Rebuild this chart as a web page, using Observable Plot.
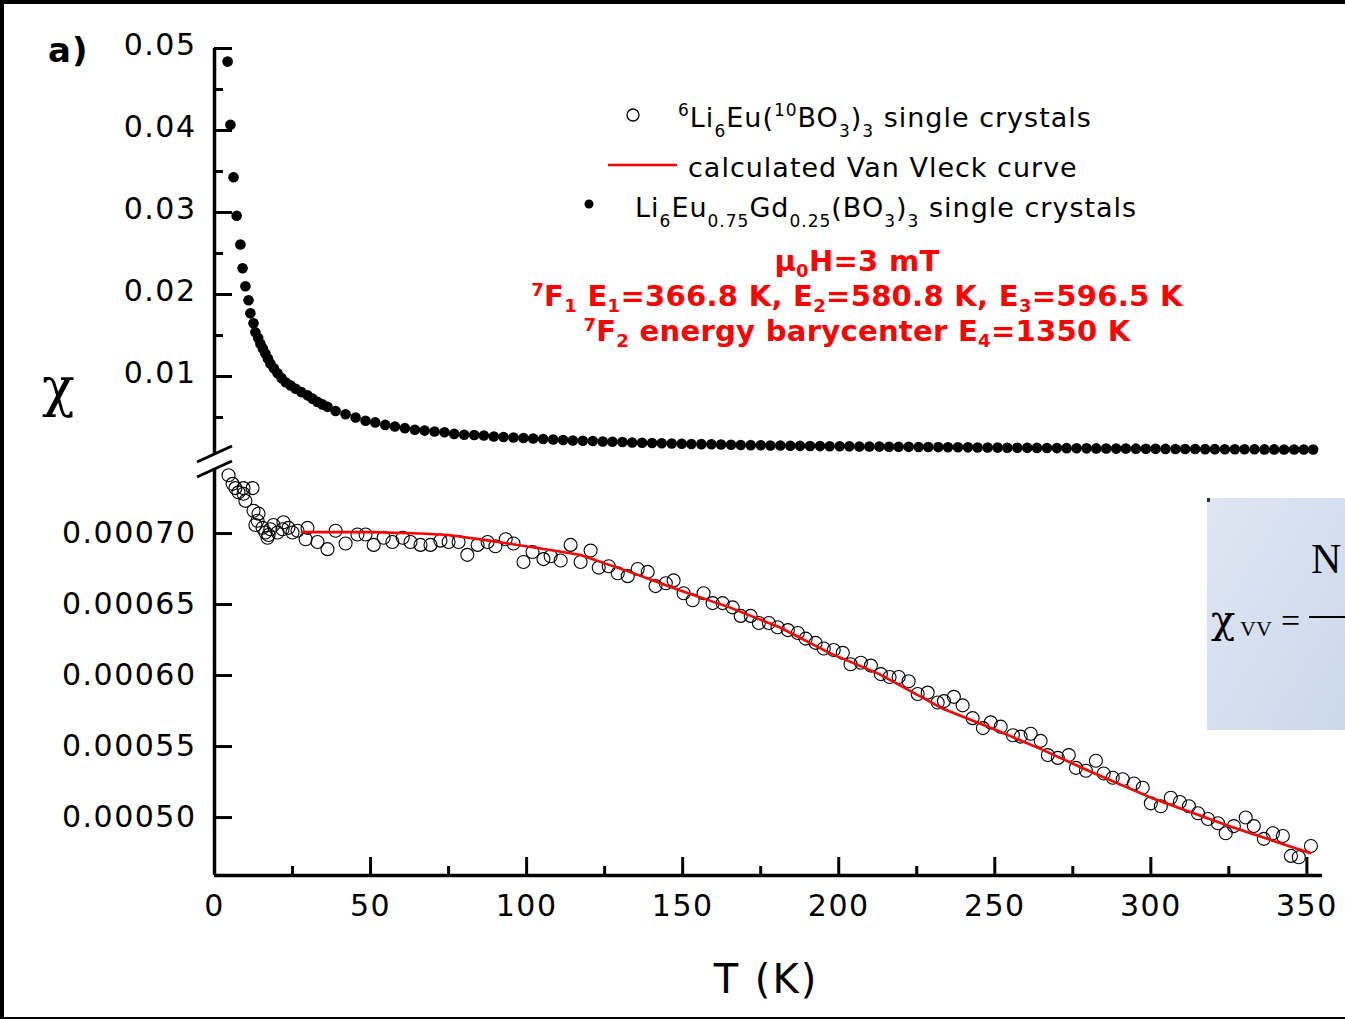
<!DOCTYPE html>
<html><head><meta charset="utf-8">
<script src="https://cdn.jsdelivr.net/npm/d3@7"></script>
<script src="https://cdn.jsdelivr.net/npm/@observablehq/plot@0.6"></script>
<style>
body{margin:0;background:#fff;overflow:hidden;}
#page{position:relative;width:1345px;height:1019px;background:#fff;overflow:hidden;}
#page > svg{position:absolute;left:0;top:0;}
</style></head>
<body><div id="page"></div>
<script>
// ---------- data ----------
const xMajor = [0, 50, 100, 150, 200, 250, 300, 350];
const xMinor = [25, 75, 125, 175, 225, 275, 325];
const upperMajor = [0.01, 0.02, 0.03, 0.04, 0.05];
const upperMinor = [0.005, 0.015, 0.025, 0.035, 0.045];
const lowerTicks = [0.0005, 0.00055, 0.0006, 0.00065, 0.0007];

// Li6Eu0.75Gd0.25(BO3)3 single crystals  [T (K), chi]
const gdSeries = [
[4.2,.0484],[5.1,.0407],[6.1,.0343],[7.1,.0296],[8.3,.0261],[9.0,.0232],[9.9,.0210],[10.9,.0193],
[11.5,.0177],[12.5,.0165],[13.1,.0154],[14.0,.0147],[14.7,.0140],[15.5,.0134],[16.3,.0128],[17.1,.0122],
[17.9,.0116],[19.0,.0110],[20.2,.0104],[21.5,.0098],[22.8,.0093],[24.4,.0089],[26.0,.0085],[27.8,.0081],
[29.8,.0077],[31.4,.0073],[33.0,.0069],[34.6,.0066],[36.2,.0063],[38.8,.0058],[42.0,.0054],[45.2,.0050],
[48.4,.0046],[51.5,.0044],[54.7,.0041],[57.8,.0039],[61.0,.0037],[64.2,.0035],[67.3,.0034],[70.5,.0033],
[73.7,.0032],[76.8,.0030],[80.0,.0029],[83.2,.00287],[86.3,.0028],[89.5,.00268],[92.6,.00262],[95.8,.00256],
[99.0,.0025],[102.1,.00244],[105.3,.00238],[108.5,.00232],[111.7,.00226],[114.8,.0022],[118.0,.00217],[121.2,.00213],
[124.4,.00207],[127.5,.00204],[130.7,.00201],[133.8,.00195],[137.0,.00192],[140.2,.00189],[143.3,.00186],[146.5,.00183],
[149.7,.0018],[152.8,.00177],[156.0,.00175],[159.2,.00173],[162.3,.00171],[165.5,.00168],[168.6,.00165],[171.8,.00163],
[175.0,.00161],[178.1,.00159],[181.3,.00158],[184.5,.00156],[187.6,.00154],[190.8,.00152],[194.0,.00151],[197.1,.0015],
[200.3,.00149],[203.4,.00148],[206.6,.00147],[209.8,.00146],[213.0,.00145],[216.1,.00144],[219.2,.00143],[222.4,.00142],
[225.6,.00141],[228.7,.0014],[231.9,.00139],[235.0,.00138],[238.2,.00137],[241.4,.00136],[244.5,.00135],[247.7,.00134],
[250.9,.00133],[254.0,.00132],[257.2,.00131],[260.4,.0013],[263.5,.00129],[266.7,.00128],[269.9,.00127],[273.0,.00126],
[276.2,.00125],[279.4,.00124],[282.5,.00123],[285.7,.00122],[288.9,.00121],[292.0,.00121],[295.2,.0012],[298.4,.00119],
[301.5,.00118],[304.7,.00117],[307.9,.00116],[311.0,.00116],[314.2,.00115],[317.4,.00114],[320.5,.00114],[323.7,.00113],
[326.9,.00113],[330.0,.00112],[333.2,.00112],[336.4,.00111],[339.5,.00111],[342.7,.0011],[345.9,.0011],[349.0,.00109],[352.0,.00109]
];

// 6Li6Eu(10BO3)3 single crystals  [T (K), chi]
const euSeries = [
[4.5,.000741],[5.8,.000735],[6.7,.000732],[7.7,.000729],[9.3,.000732],[9.3,.000728],[9.9,.000723],[12.2,.000732],
[12.5,.000716],[13.1,.000706],[13.8,.000709],[14.1,.000714],[15.4,.000704],[16.3,.0007007],[17.0,.000697],[17.3,.000699],
[17.9,.000703],[18.9,.000706],[20.2,.0007007],[21.8,.000703],[22.1,.000708],[23.7,.000704],[25.0,.0007007],[26.6,.000702],
[29.2,.000696],[29.8,.000704],[33.0,.000694],[36.2,.000689],[38.8,.000702],[42.0,.000693],[45.8,.0006993],[48.4,.0006993],
[51.0,.000692],[54.2,.000697],[57.0,.000694],[60.3,.000697],[62.8,.000694],[66.0,.000692],[69.2,.000692],[72.4,.000695],
[75.0,.000694],[78.2,.000694],[81.0,.000685],[84.3,.000692],[87.5,.000694],[90.0,.000691],[93.3,.000696],[95.8,.000693],
[99.0,.00068],[101.9,.000687],[105.4,.000682],[107.7,.000684],[110.9,.000681],[114.1,.000692],[117.3,.00068],[120.5,.000688],
[123.1,.000676],[126.3,.000677],[129.2,.000672],[132.4,.00067],[135.6,.000675],[138.8,.000673],[141.3,.000663],[144.6,.000665],
[147.1,.000667],[150.3,.000658],[153.2,.000653],[156.7,.000658],[159.6,.000651],[162.8,.000651],[166.0,.000648],[168.6,.000642],
[171.8,.000642],[174.4,.000637],[177.6,.000637],[180.4,.000634],[183.7,.000632],[186.9,.00063],[189.4,.000626],[192.6,.000623],
[195.2,.000619],[198.4,.000618],[201.3,.000616],[203.8,.000608],[207.1,.000609],[210.3,.000607],[213.5,.000601],[216.3,.000599],
[219.2,.000599],[222.4,.000596],[225.3,.000587],[228.5,.000588],[231.7,.000581],[233.7,.000582],[236.9,.000585],[239.7,.000579],
[242.9,.00057],[246.2,.000563],[248.7,.000567],[251.9,.000564],[255.8,.000558],[258.3,.000557],[261.5,.000559],[264.7,.000554],
[267.0,.000544],[270.2,.000542],[273.7,.000544],[276.0,.000535],[279.2,.000533],[282.4,.00054],[284.9,.000531],[287.8,.000528],
[291.0,.000527],[294.6,.000524],[297.4,.000521],[300.0,.00051],[303.2,.000508],[306.4,.000514],[309.3,.000511],[312.2,.000508],
[315.1,.000503],[318.3,.000499],[321.5,.000496],[324.0,.000489],[326.6,.000494],[330.4,.0005],[333.0,.000494],[336.2,.000485],
[339.1,.000489],[342.3,.000487],[344.9,.000473],[347.4,.000472],[351.3,.00048]
];

// calculated Van Vleck curve  [T (K), chi]
const vvSeries = [
[28,.000701],[50,.000701],[66,.0007],[75,.000699],[88,.000695],[106,.000689],[117,.000685],[133,.000673],
[149,.00066],[165,.000648],[181,.000634],[197,.000616],[213,.000601],[233,.000577],[250,.000562],[265,.000548],
[280,.000533],[300,.000514],[325,.000494],[351,.000475]
];

const toRows = s => s.map(([T, chi]) => ({T, chi}));

// ---------- layout ----------
const W = 1345, H = 1019, ML = 214, MR = 23;
const innerW = W - ML - MR;
const lowTop = 468, lowBottom = 875, innerH = lowBottom - lowTop;
const font = "DejaVu Sans, sans-serif";
const baseStyle = {background: "transparent", fontFamily: font, fontSize: "30px", letterSpacing: "1.5px", color: "black", overflow: "visible"};

const upper = Plot.plot({
  width: W, height: H, marginLeft: ML, marginRight: MR, marginTop: 48, marginBottom: H - 458,
  x: {domain: [0, 355], axis: null},
  y: {domain: [0, 0.05], axis: null},
  style: baseStyle,
  marks: [
    Plot.axisY({ticks: upperMajor, tickFormat: d3.format(".2f"), tickSize: 0, tickPadding: 18, fontSize: 30, dy: -3, label: null}),
    Plot.ruleY(upperMajor, {insetRight: innerW - 18, stroke: "black", strokeWidth: 3}),
    Plot.ruleY(upperMinor, {insetRight: innerW - 9, stroke: "black", strokeWidth: 3}),
    Plot.ruleX([0], {y1: 0.0005, y2: 0.05, stroke: "black", strokeWidth: 3.5}),
    Plot.dot(toRows(gdSeries), {x: "T", y: "chi", r: 5.3, fill: "black"})
  ]
});

const lower = Plot.plot({
  width: W, height: H, marginLeft: ML, marginRight: MR, marginTop: lowTop, marginBottom: H - lowBottom,
  x: {domain: [0, 355]},
  y: {domain: [0.0004592, 0.0007458]},
  style: baseStyle,
  marks: [
    Plot.axisX({ticks: xMajor, tickFormat: d => String(d), tickSize: 0, tickPadding: 19, fontSize: 30, label: null}),
    Plot.axisY({ticks: lowerTicks, tickFormat: d3.format(".5f"), tickSize: 0, tickPadding: 18, fontSize: 30, label: null}),
    Plot.ruleX(xMajor.filter(d => d > 0), {insetTop: innerH - 18, stroke: "black", strokeWidth: 3}),
    Plot.ruleX(xMinor, {insetTop: innerH - 9, stroke: "black", strokeWidth: 3}),
    Plot.ruleY(lowerTicks, {insetRight: innerW - 18, stroke: "black", strokeWidth: 3}),
    Plot.ruleX([0], {stroke: "black", strokeWidth: 3.5}),
    Plot.ruleY([0.0004592], {stroke: "black", strokeWidth: 3.5}),
    Plot.dot(toRows(euSeries), {x: "T", y: "chi", r: 6.5, stroke: "black", strokeWidth: 1.1, fill: "none"}),
    Plot.line(toRows(vvSeries), {x: "T", y: "chi", stroke: "#ff0000", strokeWidth: 2.6})
  ]
});

const page = document.getElementById("page");
page.appendChild(upper);
page.appendChild(lower);

// ---------- overlay: frame, labels, legend, annotations ----------
const ov = d3.select(page).append("svg").attr("width", W).attr("height", H)
  .attr("font-family", font);

// black border of the figure
ov.append("rect").attr("x", 0).attr("y", 0).attr("width", W).attr("height", 4).attr("fill", "black");
ov.append("rect").attr("x", 0).attr("y", 0).attr("width", 4).attr("height", H).attr("fill", "black");
ov.append("rect").attr("x", 0).attr("y", H - 2).attr("width", W).attr("height", 2).attr("fill", "black");

// axis break marks
[[462, 446], [477, 461]].forEach(([a, b]) =>
  ov.append("line").attr("x1", 197).attr("y1", a).attr("x2", 232).attr("y2", b)
    .attr("stroke", "black").attr("stroke-width", 3));

function rich(x, y, segs, o) {
  const t = ov.append("text").attr("x", x).attr("y", y)
    .attr("font-size", o.size).attr("text-anchor", o.anchor || "start")
    .attr("font-weight", o.weight || "normal").attr("fill", o.fill || "black")
    .attr("letter-spacing", o.ls || 0);
  if (o.family) t.attr("font-family", o.family);
  let cur = 0;
  for (const [s, k] of segs) {
    const target = k === "sub" ? o.subShift : k === "sup" ? -o.supShift : 0;
    t.append("tspan").attr("dy", target - cur).attr("font-size", k ? o.small : o.size).text(s);
    cur = target;
  }
  return t;
}

// panel tag, axis titles
rich(48, 62, [["a)"]], {size: 34, weight: "bold", ls: 1});
rich(42, 406, [["χ"]], {size: 54, family: "DejaVu Serif, serif"});
rich(766, 993, [["T (K)"]], {size: 40, anchor: "middle", ls: 2});

// legend
const L = {size: 27, ls: 1, small: 17, subShift: 10, supShift: 11};
ov.append("circle").attr("cx", 633).attr("cy", 115).attr("r", 6).attr("fill", "none").attr("stroke", "black").attr("stroke-width", 1.3);
rich(678, 127, [["6","sup"],["Li"],["6","sub"],["Eu("],["10","sup"],["BO"],["3","sub"],[")"],["3","sub"],[" single crystals"]], L);
ov.append("line").attr("x1", 608).attr("x2", 677).attr("y1", 165).attr("y2", 165).attr("stroke", "#ff0000").attr("stroke-width", 2.6);
rich(688, 177, [["calculated Van Vleck curve"]], L);
ov.append("circle").attr("cx", 589).attr("cy", 204).attr("r", 4.5).attr("fill", "black");
rich(635, 217, [["Li"],["6","sub"],["Eu"],["0.75","sub"],["Gd"],["0.25","sub"],["(BO"],["3","sub"],[")"],["3","sub"],[" single crystals"]], L);

// red annotations
const R = {size: 29, weight: "bold", fill: "#ff0000", anchor: "middle", small: 18, subShift: 6, supShift: 10, ls: 0.3};
rich(857, 271, [["μ"],["0","sub"],["H=3 mT"]], R);
rich(857, 306, [["7","sup"],["F"],["1","sub"],[" E"],["1","sub"],["=366.8 K, E"],["2","sub"],["=580.8 K, E"],["3","sub"],["=596.5 K"]], R);
rich(857, 341, [["7","sup"],["F"],["2","sub"],[" energy barycenter E"],["4","sub"],["=1350 K"]], R);

// inset formula box (cut at right edge)
const grad = ov.append("defs").append("linearGradient").attr("id", "bx").attr("x1", 0).attr("x2", 1).attr("y1", 0).attr("y2", 1);
grad.append("stop").attr("offset", 0).attr("stop-color", "#dfe6f2");
grad.append("stop").attr("offset", 1).attr("stop-color", "#cbd8ec");
ov.append("rect").attr("x", 1207).attr("y", 498).attr("width", 140).attr("height", 232).attr("fill", "url(#bx)");
ov.append("rect").attr("x", 1207).attr("y", 498).attr("width", 3).attr("height", 4).attr("fill", "#333");
const serif = "Liberation Serif, DejaVu Serif, serif";
rich(1311, 573, [["N"]], {size: 42, family: serif});
rich(1211, 633, [["χ"]], {size: 40, family: "DejaVu Serif, serif"});
rich(1240, 636, [["VV"]], {size: 22, family: serif});
rich(1281, 632, [["="]], {size: 34, family: serif});
ov.append("line").attr("x1", 1309).attr("x2", 1345).attr("y1", 617).attr("y2", 617).attr("stroke", "black").attr("stroke-width", 2);
</script>
</body></html>
